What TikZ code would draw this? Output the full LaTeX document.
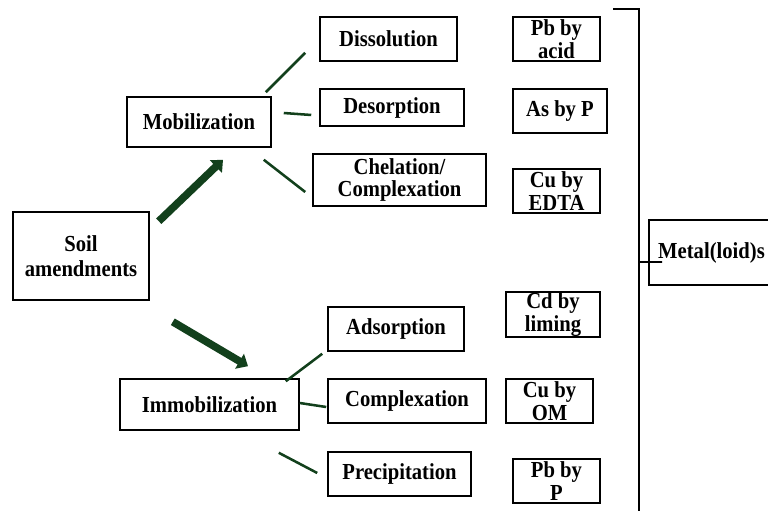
\documentclass[tikz,border=0pt]{standalone}
\usepackage{fontspec}
\setmainfont{Liberation Serif}[FakeStretch=0.9]
\usetikzlibrary{arrows.meta}
\definecolor{vertlien}{RGB}{18,64,28}

\begin{document}
\begin{tikzpicture}[
    x=0.025cm, y=-0.025cm,
    box/.style={draw, line width=1.1pt, inner sep=0pt, align=center, font=\fontsize{16.3}{16}\selectfont\bfseries},
    link/.style={draw=vertlien, line width=1.8pt},
    bigarrow/.style={draw=vertlien, line width=5.4pt, -{Triangle[length=7pt, width=12pt]}}
]
\useasboundingbox (0,0) rectangle (768,511);

% Amendments and the two pathways
\node[box, minimum width=136*0.025cm, minimum height=88*0.025cm, font=\fontsize{16.3}{17.5}\selectfont\bfseries] (soil) at (81,256) {Soil\\amendments};
\node[box, minimum width=144*0.025cm, minimum height=50*0.025cm] (mob) at (199,122) {Mobilization};
\node[box, minimum width=179*0.025cm, minimum height=51*0.025cm] (imm) at (209.5,404.5) {Immobilization};

% Mobilization processes
\node[box, minimum width=137*0.025cm, minimum height=44*0.025cm] (diss) at (388.5,39) {Dissolution};
\node[box, minimum width=144*0.025cm, minimum height=37*0.025cm] (deso) at (392,107.5) {Desorption};
\node[box, minimum width=173*0.025cm, minimum height=52*0.025cm] (chel) at (399.5,180) {Chelation/\\Complexation};

% Immobilization processes
\node[box, minimum width=136*0.025cm, minimum height=44*0.025cm] (adso) at (396,329) {Adsorption};
\node[box, minimum width=158*0.025cm, minimum height=44*0.025cm] (compl) at (407,401) {Complexation};
\node[box, minimum width=143*0.025cm, minimum height=44*0.025cm] (prec) at (399.5,474) {Precipitation};

% Examples
\node[box, minimum width=87*0.025cm, minimum height=44*0.025cm] (pbacid) at (556.5,39) {Pb by\\acid};
\node[box, minimum width=94*0.025cm, minimum height=44*0.025cm] (asp) at (560,111) {As by P};
\node[box, minimum width=87*0.025cm, minimum height=44*0.025cm] (cuedta) at (556.5,191) {Cu by\\EDTA};
\node[box, minimum width=94*0.025cm, minimum height=45*0.025cm] (cdlim) at (553,314.5) {Cd by\\liming};
\node[box, minimum width=87*0.025cm, minimum height=44*0.025cm] (cuom) at (549.5,401) {Cu by\\OM};
\node[box, minimum width=87*0.025cm, minimum height=44*0.025cm] (pbp) at (556.5,481) {Pb by\\P};

% Metal(loid)s (runs past the right edge)
\node[box, minimum width=125*0.025cm, minimum height=65*0.025cm] (metal) at (711.5,252.5) {\raisebox{-0.1cm}{Metal(loid)s}};

\draw[bigarrow] ([shift={(9,10)}]soil.north east) -- ([shift={(24,12)}]mob.south);
\draw[bigarrow] ([shift={(23,21)}]soil.south east) -- ([shift={(38.5,-12)}]imm.north);

\draw[link] ([shift={(-6,-4)}]mob.north east) -- ([shift={(-14,-9)}]diss.south west);
\draw[link] ([shift={(12,-9)}]mob.east) -- ([shift={(-8,7.5)}]deso.west);
\draw[link] ([shift={(-8,12)}]mob.south east) -- ([shift={(-7,12)}]chel.west);

\draw[link] ([shift={(-14,3)}]imm.north east) -- ([shift={(-5,2)}]adso.south west);
\draw[link] ([shift={(0,-1.5)}]imm.east) -- ([shift={(-1,6)}]compl.west);
\draw[link] ([shift={(-21,22)}]imm.south east) -- ([shift={(-10,-1)}]prec.west);

% bracket
\coordinate (brtop) at (613,9);
\coordinate (brbot) at (639,511);
\coordinate (brjoin) at (639,262);
\draw[line width=1.1pt] (brtop) -| (brbot);
\draw[line width=1.1pt] (brjoin) -- ([shift={(14,9.5)}]metal.west);
\end{tikzpicture}
\end{document}
